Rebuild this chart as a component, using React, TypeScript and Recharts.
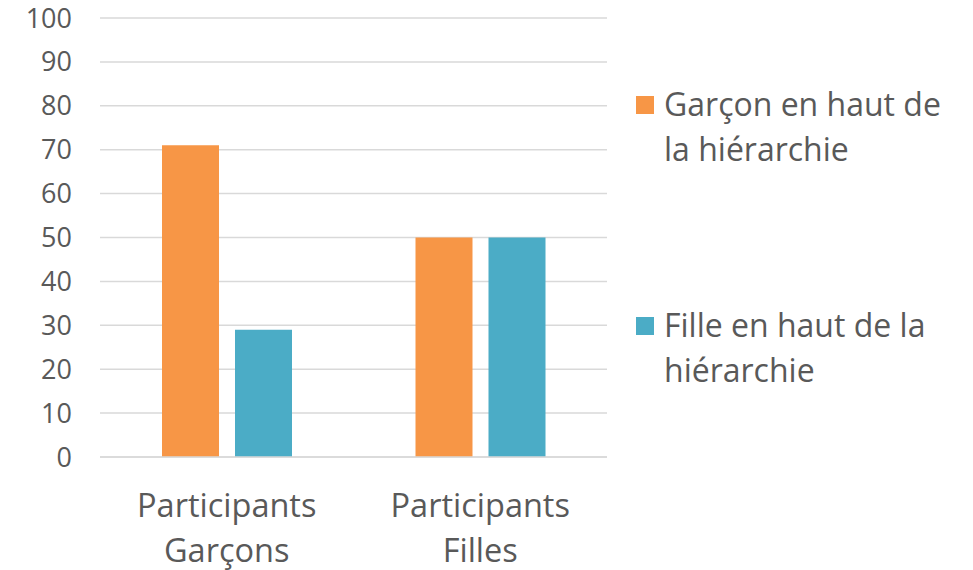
import React from 'react';
import { BarChart, Bar, XAxis, YAxis, CartesianGrid } from 'recharts';

const categories = ['Participants\nGarçons', 'Participants\nFilles'];
const garconHaut = [71, 50];
const filleHaut = [29, 50];
const yTicks = [0, 10, 20, 30, 40, 50, 60, 70, 80, 90, 100];

const seriesNames = ['Garçon en haut de la hiérarchie', 'Fille en haut de la hiérarchie'];
const colors = ['#F79646', '#4BACC6'];

const data = categories.map((c, i) => ({
  category: c,
  garcon: garconHaut[i],
  fille: filleHaut[i],
}));

const FONT = '"Open Sans", sans-serif';
const TEXT = '#595959';

function CategoryTick(props: any) {
  const { x, y, payload } = props;
  const lines = String(payload.value).split('\n');
  return (
    <text x={x} y={y} textAnchor="middle" fill={TEXT} fontSize={32.5} fontFamily={FONT}>
      {lines.map((l, i) => (
        <tspan key={i} x={x} dy={i === 0 ? 52 : 45}>
          {l}
        </tspan>
      ))}
    </text>
  );
}

// legend drawn beside the plot, two items stacked with a big gap like the original
function SideLegend() {
  const tops = [81, 302];
  return (
    <>
      {seriesNames.map((name, i) => (
        <div
          key={name}
          style={{
            position: 'absolute',
            left: 636,
            top: tops[i],
            display: 'flex',
            alignItems: 'flex-start',
            fontFamily: FONT,
            fontSize: 32,
            lineHeight: '45px',
            color: TEXT,
          }}
        >
          <div
            style={{
              width: 18,
              height: 18,
              background: colors[i],
              marginTop: 15,
              marginRight: 10,
              flex: '0 0 auto',
            }}
          />
          <div style={{ width: 300 }}>{name}</div>
        </div>
      ))}
    </>
  );
}

export default function App() {
  return (
    <div style={{ position: 'absolute', left: 0, top: 0, width: 973, height: 570, background: '#fff' }}>
      <BarChart
        width={973}
        height={570}
        data={data}
        margin={{ top: 18, right: 366, bottom: 0, left: 0 }}
        barCategoryGap="24.5%"
        barGap={16}
      >
        <CartesianGrid vertical={false} stroke="#d9d9d9" strokeWidth={1.5} />
        <XAxis
          dataKey="category"
          height={113}
          tick={<CategoryTick />}
          tickLine={false}
          axisLine={{ stroke: '#d9d9d9', strokeWidth: 1.5 }}
          interval={0}
        />
        <YAxis
          width={100}
          domain={[0, 100]}
          ticks={yTicks}
          interval={0}
          tickLine={false}
          tickSize={0}
          tickMargin={28}
          axisLine={false}
          tick={{ fill: TEXT, fontSize: 27, fontFamily: FONT }}
        />
        <Bar dataKey="garcon" name={seriesNames[0]} fill={colors[0]} barSize={57} isAnimationActive={false} />
        <Bar dataKey="fille" name={seriesNames[1]} fill={colors[1]} barSize={57} isAnimationActive={false} />
      </BarChart>
      <SideLegend />
    </div>
  );
}
